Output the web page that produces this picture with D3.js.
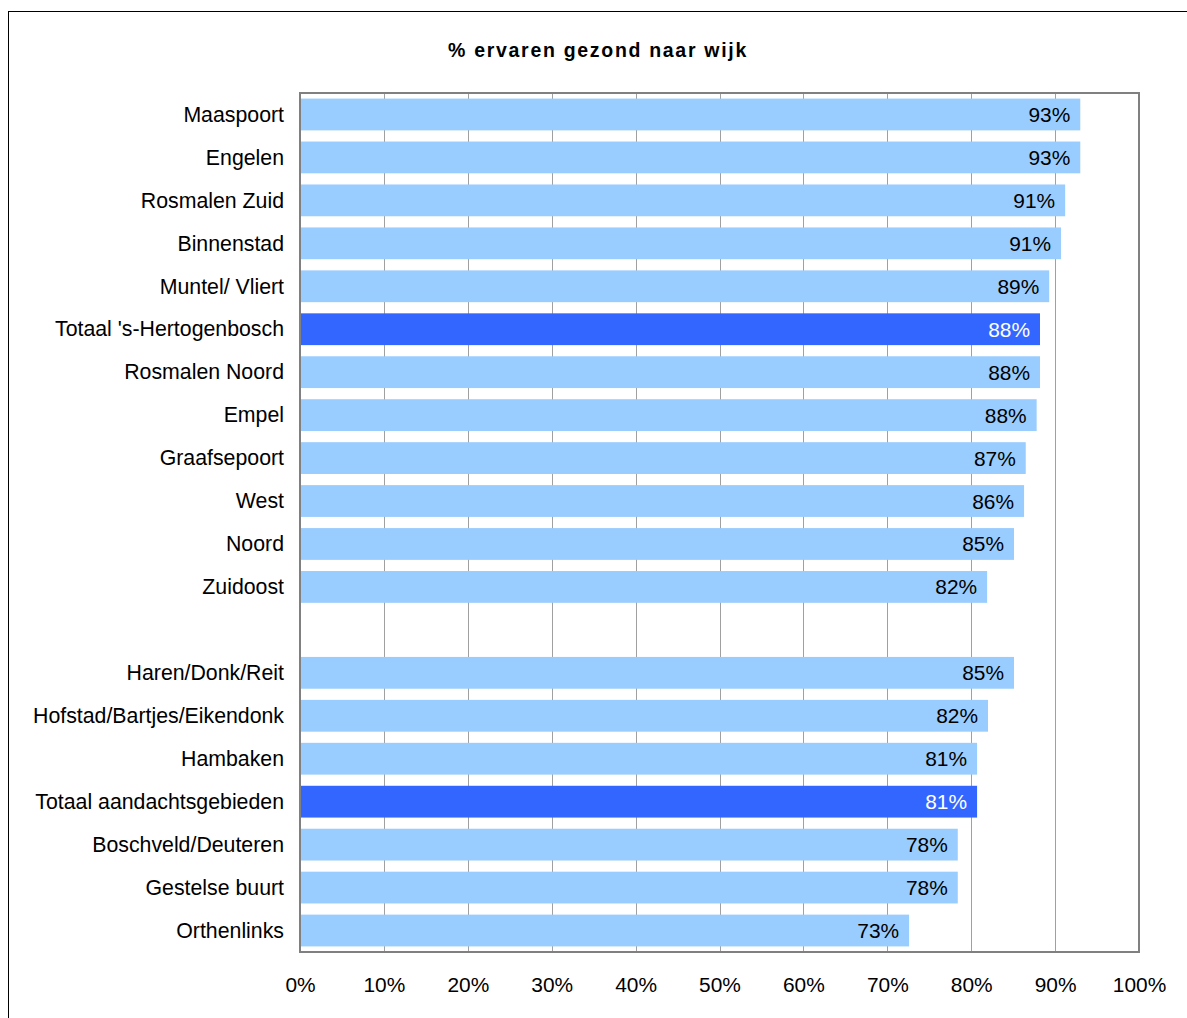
<!DOCTYPE html>
<html lang="nl">
<head>
    <meta charset="UTF-8">
    <title>% ervaren gezond naar wijk</title>
    <script src="https://d3js.org/d3.v7.min.js"></script>
    <style>
        body { margin: 0; background: #fff; }
        text { font-family: "Liberation Sans", Arial, sans-serif; }
    </style>
</head>
<body>
    <svg id="chart" width="1187" height="1018"></svg>

    <script>
        // Wijken, in volgorde van boven naar beneden (twee groepen)
        const wijkenStad = ["Maaspoort", "Engelen", "Rosmalen Zuid", "Binnenstad", "Muntel/ Vliert",
            "Totaal 's-Hertogenbosch", "Rosmalen Noord", "Empel", "Graafsepoort", "West", "Noord", "Zuidoost"];
        const wijkenAandacht = ["Haren/Donk/Reit", "Hofstad/Bartjes/Eikendonk", "Hambaken",
            "Totaal aandachtsgebieden", "Boschveld/Deuteren", "Gestelse buurt", "Orthenlinks"];

        // % ervaren gezond (aflezing uit de grafiek)
        const waardenStad = [0.930, 0.930, 0.912, 0.907, 0.893, 0.882, 0.882, 0.878, 0.865, 0.863, 0.851, 0.819];
        const waardenAandacht = [0.851, 0.820, 0.807, 0.807, 0.784, 0.784, 0.726];

        const totalen = ["Totaal 's-Hertogenbosch", "Totaal aandachtsgebieden"];
        const xTicks = [0, 0.1, 0.2, 0.3, 0.4, 0.5, 0.6, 0.7, 0.8, 0.9, 1.0];

        const data = wijkenStad.map((w, i) => ({ wijk: w, value: waardenStad[i] }))
            .concat(wijkenAandacht.map((w, i) => ({ wijk: w, value: waardenAandacht[i] })));

        const svg = d3.select("#chart");
        const plot = { left: 300, right: 1139, top: 93, bottom: 952 };

        // outer frame (runs off the right/bottom edge)
        svg.append("rect")
            .attr("x", 8.5).attr("y", 11.5)
            .attr("width", 1200).attr("height", 1100)
            .attr("fill", "none").attr("stroke", "#000").attr("stroke-width", 1);

        const x = d3.scaleLinear().domain([0, 1]).range([plot.left, plot.right]);
        const y = d3.scaleBand()
            .domain([...wijkenStad, "__gap", ...wijkenAandacht])
            .range([plot.top, plot.bottom])
            .paddingInner(0.26)
            .paddingOuter(0.13);

        // gridlines
        svg.append("g")
            .selectAll("line")
            .data(xTicks.slice(1, -1))
            .enter().append("line")
            .attr("x1", d => Math.round(x(d)) + 0.5)
            .attr("x2", d => Math.round(x(d)) + 0.5)
            .attr("y1", plot.top)
            .attr("y2", plot.bottom)
            .attr("stroke", "#a0a0a0")
            .attr("stroke-width", 1);

        // bars
        svg.append("g")
            .selectAll("rect")
            .data(data)
            .enter().append("rect")
            .attr("x", x(0))
            .attr("y", d => y(d.wijk))
            .attr("width", d => x(d.value) - x(0))
            .attr("height", y.bandwidth())
            .attr("fill", d => totalen.includes(d.wijk) ? "#3366ff" : "#99ccff");

        // value labels inside bars
        svg.append("g")
            .selectAll("text")
            .data(data)
            .enter().append("text")
            .attr("x", d => x(d.value) - 10)
            .attr("y", d => y(d.wijk) + y.bandwidth() / 2)
            .attr("dy", "0.36em")
            .attr("text-anchor", "end")
            .attr("font-size", "20.9px")
            .attr("fill", d => totalen.includes(d.wijk) ? "#fff" : "#000")
            .text(d => Math.round(d.value * 100) + "%");

        // plot border
        svg.append("rect")
            .attr("x", plot.left).attr("y", plot.top)
            .attr("width", plot.right - plot.left).attr("height", plot.bottom - plot.top)
            .attr("fill", "none").attr("stroke", "#808080").attr("stroke-width", 2);

        // category axis
        const yAxis = svg.append("g")
            .attr("transform", `translate(${plot.left - 16},0)`)
            .call(d3.axisLeft(y).tickSize(0).tickPadding(0)
                .tickFormat(d => d === "__gap" ? "" : d));
        yAxis.select(".domain").remove();
        yAxis.selectAll("text")
            .attr("font-family", "'Liberation Sans', Arial, sans-serif")
            .attr("font-size", "21.3px")
            .attr("fill", "#000")
            .attr("dy", "0.34em");

        // value axis
        const xAxis = svg.append("g")
            .attr("transform", `translate(0,${plot.bottom})`)
            .call(d3.axisBottom(x).tickValues(xTicks).tickSize(0).tickPadding(25)
                .tickFormat(d3.format(".0%")));
        xAxis.select(".domain").remove();
        xAxis.selectAll("text")
            .attr("font-family", "'Liberation Sans', Arial, sans-serif")
            .attr("font-size", "20.9px")
            .attr("fill", "#000");

        // title
        svg.append("text")
            .attr("x", 598)
            .attr("y", 57)
            .attr("text-anchor", "middle")
            .attr("font-size", "19.5px")
            .attr("font-weight", "bold")
            .attr("letter-spacing", "1.7px")
            .text("% ervaren gezond naar wijk");
    </script>
</body>
</html>
